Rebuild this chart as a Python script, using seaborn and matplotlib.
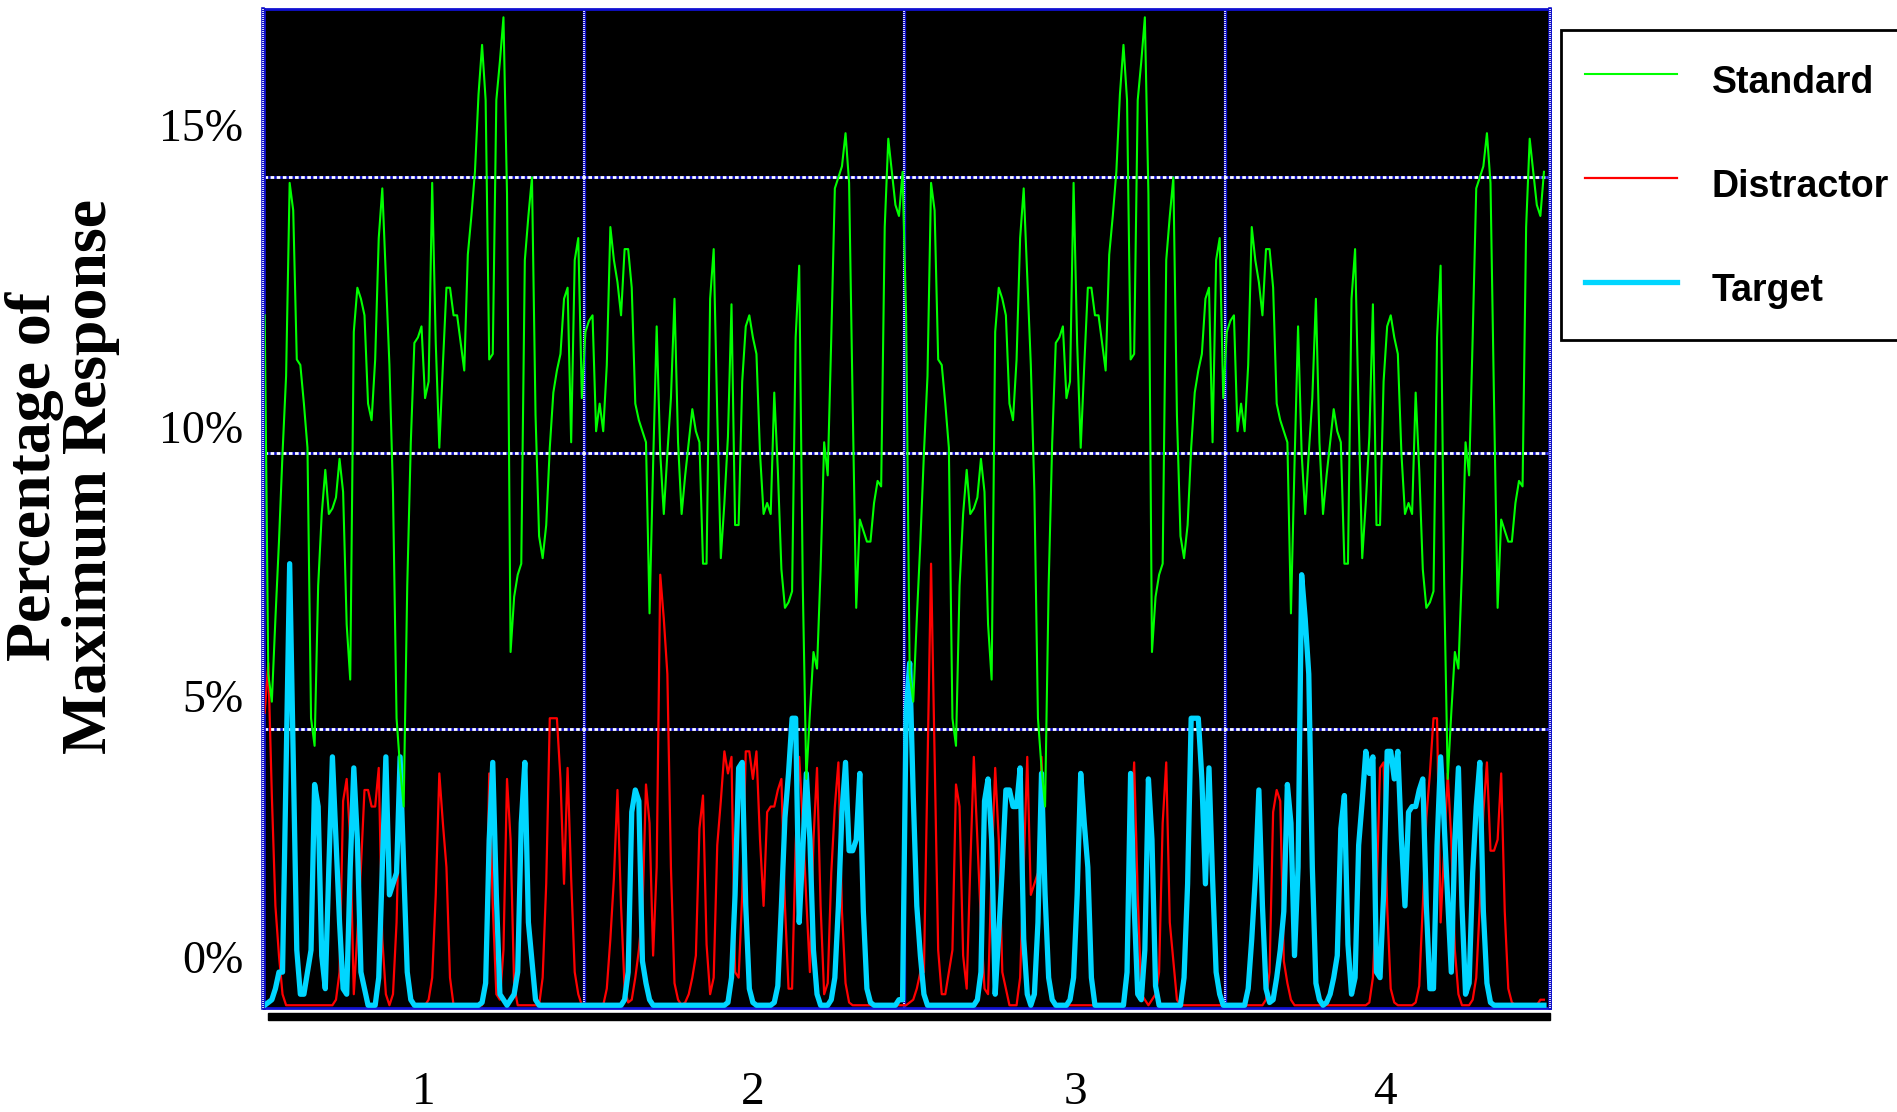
import numpy as np
import pandas as pd
import matplotlib
matplotlib.use("Agg")
import matplotlib.pyplot as plt
import matplotlib.transforms as mtransforms
from matplotlib.patches import Rectangle
from matplotlib.font_manager import FontProperties
import seaborn as sns

# ---------------- data (percentage of maximum response, 90 bins per block) ----------------
standard_block1 = [
    12.5, 6.0, 5.5, 7.0, 8.4, 10.0, 11.4, 14.9, 14.4, 11.7,
    11.6, 10.9, 10.1, 5.2, 4.7, 7.6, 8.9, 9.7, 8.9, 9.0,
    9.2, 9.9, 9.3, 6.9, 5.9, 12.2, 13.0, 12.8, 12.5, 10.9,
    10.6, 11.7, 13.9, 14.8, 13.2, 11.6, 9.3, 5.2, 4.3, 3.6,
    7.6, 10.2, 12.0, 12.1, 12.3, 11.0, 11.3, 14.9, 12.0, 10.1,
    11.6, 13.0, 13.0, 12.5, 12.5, 12.0, 11.5, 13.6, 14.3, 15.1,
    16.5, 17.4, 16.4, 11.7, 11.8, 16.4, 17.1, 17.9, 14.7, 6.4,
    7.4, 7.8, 8.0, 13.5, 14.3, 15.0, 10.7, 8.5, 8.1, 8.7,
    10.1, 11.1, 11.5, 11.8, 12.8, 13.0, 10.2, 13.5, 13.9, 11.0,
]
standard_block2 = [
    12.2, 12.4, 12.5, 10.4, 10.9, 10.4, 11.6, 14.1, 13.5, 13.1,
    12.5, 13.7, 13.7, 13.0, 10.9, 10.6, 10.4, 10.2, 7.1, 9.8,
    12.3, 10.0, 8.9, 10.0, 11.0, 12.8, 10.2, 8.9, 9.6, 10.2,
    10.8, 10.4, 10.2, 8.0, 8.0, 12.8, 13.7, 10.7, 8.1, 9.1,
    10.3, 12.7, 8.7, 8.7, 11.3, 12.3, 12.5, 12.1, 11.8, 10.0,
    8.9, 9.1, 8.9, 11.1, 9.7, 7.9, 7.2, 7.3, 7.5, 12.1,
    13.4, 7.6, 4.1, 5.3, 6.4, 6.1, 7.9, 10.2, 9.6, 12.1,
    14.8, 15.0, 15.2, 15.8, 14.9, 10.9, 7.2, 8.8, 8.6, 8.4,
    8.4, 9.1, 9.5, 9.4, 14.1, 15.7, 15.1, 14.5, 14.3, 15.1,
]
distractor_block1 = [
    5.3, 6.2, 3.8, 1.8, 0.9, 0.2, 0.0, 0.0, 0.0, 0.0,
    0.0, 0.0, 0.0, 0.0, 0.0, 0.0, 0.0, 0.0, 0.0, 0.0,
    0.1, 0.6, 3.7, 4.1, 3.0, 0.2, 1.3, 2.5, 3.9, 3.9,
    3.6, 3.6, 4.3, 1.2, 0.2, 0.0, 0.2, 1.5, 4.2, 2.0,
    0.5, 0.1, 0.0, 0.0, 0.0, 0.0, 0.1, 0.5, 2.0, 4.2,
    3.3, 2.5, 0.5, 0.0, 0.0, 0.0, 0.0, 0.0, 0.0, 0.0,
    0.0, 0.0, 0.6, 4.2, 1.8, 0.2, 0.1, 1.0, 4.1, 3.0,
    0.35, 0.0, 0.0, 0.0, 0.0, 0.0, 0.0, 0.0, 0.5, 2.2,
    5.2, 5.2, 5.2, 4.1, 2.2, 4.3, 2.3, 0.6, 0.2, 0.0,
]
distractor_block2 = [
    0.0, 0.0, 0.0, 0.0, 0.0, 0.0, 0.3, 1.2, 2.3, 3.9,
    1.8, 0.3, 0.05, 0.1, 0.5, 1.0, 1.7, 4.0, 3.3, 0.9,
    2.5, 7.8, 7.0, 6.0, 2.5, 0.4, 0.1, 0.0, 0.05, 0.2,
    0.5, 0.9, 3.2, 3.8, 1.1, 0.2, 0.5, 2.9, 3.7, 4.6,
    4.2, 4.5, 0.6, 0.5, 2.0, 4.6, 4.6, 4.1, 4.6, 3.0,
    1.8, 3.5, 3.6, 3.6, 3.9, 4.1, 1.8, 0.3, 0.3, 2.9,
    4.5, 3.3, 1.9, 0.6, 3.0, 4.3, 1.8, 0.2, 0.4, 2.4,
    3.6, 4.4, 1.7, 0.4, 0.05, 0.0, 0.0, 0.0, 0.0, 0.0,
    0.0, 0.0, 0.0, 0.0, 0.0, 0.0, 0.0, 0.0, 0.0, 0.0,
]
target_block1 = [
    0.0, 0.05, 0.1, 0.3, 0.6, 0.6, 4.3, 8.0, 4.5, 1.0,
    0.2, 0.2, 0.6, 1.0, 4.0, 3.6, 0.9, 0.3, 2.5, 4.5,
    3.0, 1.5, 0.3, 0.2, 2.5, 4.3, 3.0, 0.6, 0.3, 0.0,
    0.0, 0.0, 0.5, 2.5, 4.5, 2.0, 2.2, 2.4, 4.5, 2.5,
    0.6, 0.1, 0.0, 0.0, 0.0, 0.0, 0.0, 0.0, 0.0, 0.0,
    0.0, 0.0, 0.0, 0.0, 0.0, 0.0, 0.0, 0.0, 0.0, 0.0,
    0.0, 0.05, 0.4, 3.0, 4.4, 2.0, 0.2, 0.1, 0.0, 0.1,
    0.2, 0.6, 3.3, 4.4, 1.5, 0.8, 0.1, 0.0, 0.0, 0.0,
    0.0, 0.0, 0.0, 0.0, 0.0, 0.0, 0.0, 0.0, 0.0, 0.0,
]
target_block2 = [
    0.0, 0.0, 0.0, 0.0, 0.0, 0.0, 0.0, 0.0, 0.0, 0.0,
    0.0, 0.1, 0.6, 3.5, 3.9, 3.7, 0.8, 0.4, 0.1, 0.0,
    0.0, 0.0, 0.0, 0.0, 0.0, 0.0, 0.0, 0.0, 0.0, 0.0,
    0.0, 0.0, 0.0, 0.0, 0.0, 0.0, 0.0, 0.0, 0.0, 0.0,
    0.05, 0.5, 2.0, 4.3, 4.4, 1.8, 0.3, 0.05, 0.0, 0.0,
    0.0, 0.0, 0.0, 0.05, 0.35, 1.8, 3.4, 4.2, 5.2, 5.2,
    1.5, 2.8, 4.2, 3.0, 1.0, 0.2, 0.0, 0.0, 0.0, 0.1,
    0.5, 1.8, 3.5, 4.4, 2.8, 2.8, 3.0, 4.2, 1.7, 0.3,
    0.05, 0.0, 0.0, 0.0, 0.0, 0.0, 0.0, 0.0, 0.1, 0.1,
]
block_labels = ["1", "2", "3", "4"]
ytick_values = [0, 5, 10, 15]
ytick_labels = ["0%", "5%", "10%", "15%"]
series_names = ["Standard", "Distractor", "Target"]
ylabel_text = "Percentage of\nMaximum Response"

# blocks 3 and 4 repeat blocks 1 and 2 with distractor/target swapped
standard = standard_block1 + standard_block2 + standard_block1 + standard_block2
distractor = distractor_block1 + distractor_block2 + target_block1 + target_block2
target = target_block1 + target_block2 + distractor_block1 + distractor_block2

n_bins = len(standard)
block_len = len(standard_block1)
df = pd.DataFrame({
    "bin": np.tile(np.arange(n_bins), 3),
    "pct": standard + distractor + target,
    "Stimulus": np.repeat(series_names, n_bins),
})

# ---------------- figure ----------------
W, H = 1897, 1112
fig = plt.figure(figsize=(W / 100, H / 100), dpi=100)
fig.patch.set_facecolor("white")
L, R, T, B = 264, 1550, 9, 1008
ax = fig.add_axes([L / W, 1 - B / H, (R - L) / W, (B - T) / H])
ax.set_facecolor("black")

styles = {
    "Distractor": dict(color="#ff0000", linewidth=1.6, zorder=3),
    "Target": dict(color="#00d6ff", linewidth=3.8, zorder=4),
    "Standard": dict(color="#00ff00", linewidth=1.5, zorder=5),
}
handles = {}
for name in ["Distractor", "Target", "Standard"]:
    sub = df[df["Stimulus"] == name]
    sns.lineplot(data=sub, x="bin", y="pct", ax=ax, legend=False,
                 estimator=None, **styles[name])
    handles[name] = ax.lines[-1]

xmin, xmax = -0.2, n_bins + 0.7
ax.set_xlim(xmin, xmax)
ax.set_ylim(-0.05, 18.05)

# horizontal grid lines (blue with white dashes)
for v in ytick_values[1:]:
    ax.axhline(v, color="#1010c8", linewidth=2.0, zorder=1)
    ax.axhline(v, color="white", linewidth=2.0, linestyle=(0, (1.3, 0.9)), zorder=1.5)

# block dividers
for k in range(1, 4):
    xd = k * block_len - 0.5
    ax.axvline(xd, color="#1010c8", linewidth=2.4, zorder=1)
    ax.axvline(xd, color="white", linewidth=1.2, linestyle=(0, (0.6, 0.6)), zorder=1.5)

# frame
for side in ["top", "bottom", "right", "left"]:
    ax.spines[side].set_color("#1010d0")
    ax.spines[side].set_linewidth(2.0)
for xd, off in [(xmin, -0.4), (xmax, 0.0)]:
    ax.axvline(xd + off, color="#1010c8", linewidth=2.6, zorder=6, clip_on=False)
    ax.axvline(xd + off, color="white", linewidth=1.2, linestyle=(0, (0.6, 0.6)),
               zorder=6.5, clip_on=False)
ax.add_patch(Rectangle((0.003, -0.012), 0.997, 0.007, transform=ax.transAxes,
                       color="black", clip_on=False, zorder=6))

# ticks
serif = "Liberation Serif"
ax.set_xticks([k * block_len + (block_len - 1) / 2 for k in range(4)])
ax.set_xticklabels(block_labels, fontfamily=serif, fontsize=34)
ax.set_yticks(ytick_values)
ax.set_yticklabels(ytick_labels, fontfamily=serif, fontsize=33)
ax.tick_params(axis="both", length=0)
ax.tick_params(axis="x", pad=46)
ax.tick_params(axis="y", pad=15)
ax.set_xlabel("")
y_offsets_pt = [35, 24, 19, 38]
for lab, dy in zip(ax.get_yticklabels(), y_offsets_pt):
    lab.set_transform(lab.get_transform() +
                      mtransforms.ScaledTranslation(0, dy / 72, fig.dpi_scale_trans))
x_offsets_pt = [0, 6, 8, 0]
for lab, dx in zip(ax.get_xticklabels(), x_offsets_pt):
    lab.set_transform(lab.get_transform() +
                      mtransforms.ScaledTranslation(dx / 72, 0, fig.dpi_scale_trans))

ax.set_ylabel(ylabel_text, fontfamily=serif, fontweight="bold", fontsize=46,
              linespacing=0.94, ha="center", va="center")
ax.yaxis.set_label_coords((62.5 - L) / (R - L), (B - 476) / (B - T))

# legend
leg = fig.legend(
    handles=[handles[n] for n in series_names], labels=series_names,
    loc="upper left", bbox_to_anchor=(1561 / W, 1 - 30 / H),
    prop=FontProperties(family="Liberation Sans", weight="bold", size=27),
    frameon=True, fancybox=False, framealpha=1, edgecolor="black",
    borderpad=0.65, handlelength=2.45, handleheight=1.8, labelspacing=1.36,
    handletextpad=0.92, borderaxespad=0,
)
leg.get_frame().set_linewidth(2.0)

fig.savefig("out.png", dpi=100, facecolor="white")
